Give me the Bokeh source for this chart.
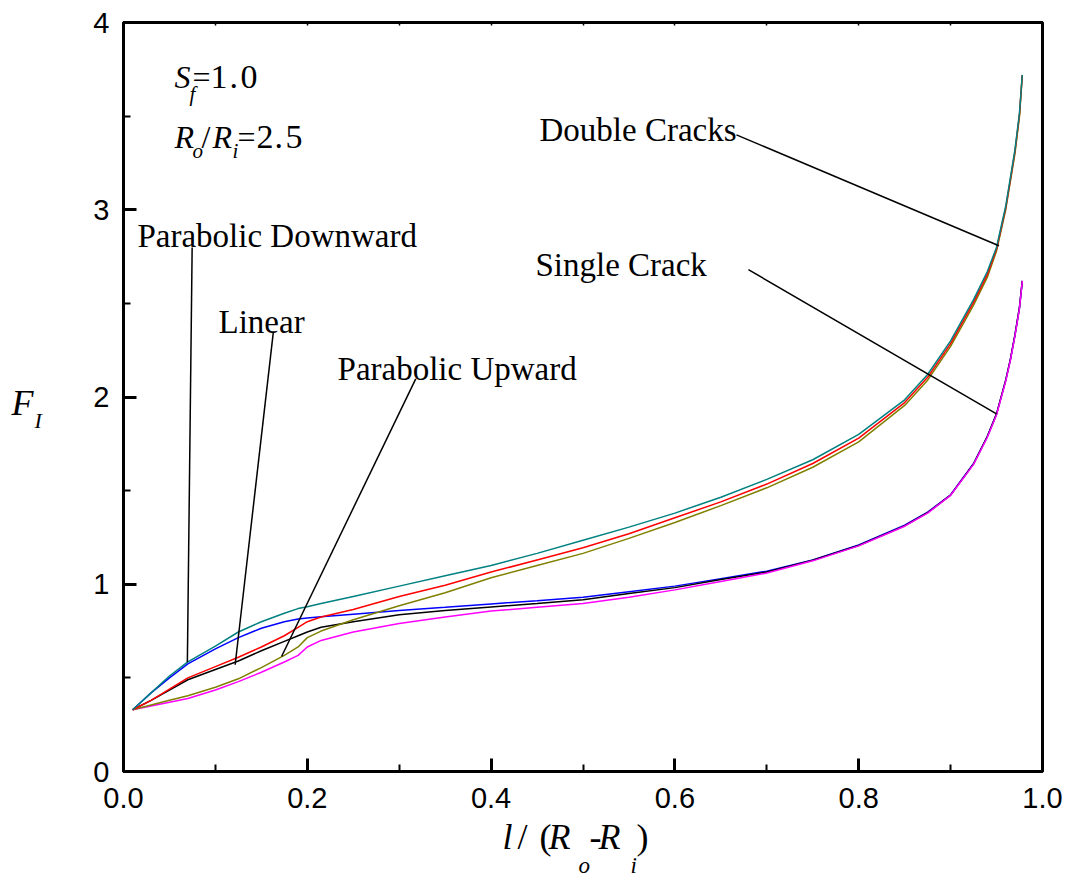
from bokeh.plotting import figure
from bokeh.models import Range1d, FixedTicker, LinearAxis, Label
from bokeh.layouts import column, row
from bokeh.core.properties import value
from bokeh.embed import file_html
from bokeh.resources import INLINE

# Normalised crack length l/(Ro-Ri)
x = [0.01, 0.03, 0.05, 0.07, 0.10, 0.125, 0.15, 0.175, 0.19, 0.20, 0.215, 0.25,
     0.30, 0.35, 0.40, 0.45, 0.50, 0.55, 0.60, 0.65, 0.70, 0.75, 0.80, 0.85,
     0.875, 0.90, 0.925, 0.94, 0.95, 0.96, 0.965, 0.97, 0.975, 0.978]

# Double cracks
double_pd = [0.33, 0.42, 0.51, 0.585, 0.67, 0.745, 0.80, 0.845, 0.87, 0.88, 0.897, 0.935,
             0.99, 1.045, 1.10, 1.165, 1.235, 1.305, 1.38, 1.465, 1.56, 1.665, 1.80, 1.985,
             2.12, 2.30, 2.52, 2.67, 2.80, 3.02, 3.17, 3.32, 3.52, 3.72]
double_lin = [0.33, 0.38, 0.44, 0.50, 0.56, 0.61, 0.665, 0.725, 0.77, 0.80, 0.825, 0.865,
              0.935, 0.995, 1.065, 1.13, 1.195, 1.27, 1.355, 1.44, 1.535, 1.645, 1.78, 1.97,
              2.105, 2.285, 2.505, 2.655, 2.79, 3.01, 3.16, 3.31, 3.51, 3.72]
double_pu = [0.33, 0.355, 0.38, 0.405, 0.45, 0.495, 0.555, 0.62, 0.665, 0.715, 0.75, 0.81,
             0.885, 0.955, 1.035, 1.10, 1.165, 1.245, 1.33, 1.42, 1.515, 1.625, 1.76, 1.955,
             2.09, 2.27, 2.49, 2.64, 2.78, 3.00, 3.15, 3.30, 3.50, 3.72]

# Single crack
single_pd = [0.33, 0.42, 0.50, 0.575, 0.655, 0.715, 0.765, 0.80, 0.815, 0.82, 0.826, 0.84,
             0.86, 0.877, 0.895, 0.912, 0.93, 0.96, 0.99, 1.03, 1.07, 1.13, 1.21, 1.315,
             1.385, 1.478, 1.645, 1.79, 1.91, 2.09, 2.20, 2.33, 2.48, 2.62]
single_lin = [0.33, 0.38, 0.435, 0.49, 0.545, 0.59, 0.645, 0.695, 0.725, 0.745, 0.77, 0.80,
              0.837, 0.86, 0.879, 0.897, 0.917, 0.95, 0.982, 1.025, 1.065, 1.128, 1.207, 1.312,
              1.382, 1.476, 1.643, 1.789, 1.91, 2.09, 2.20, 2.33, 2.48, 2.62]
single_pu = [0.33, 0.35, 0.37, 0.39, 0.435, 0.48, 0.53, 0.585, 0.62, 0.665, 0.70, 0.745,
             0.79, 0.825, 0.857, 0.877, 0.897, 0.93, 0.97, 1.015, 1.06, 1.125, 1.205, 1.31,
             1.38, 1.475, 1.64, 1.785, 1.905, 2.085, 2.195, 2.325, 2.475, 2.62]

x_ticks = [0.0, 0.2, 0.4, 0.6, 0.8, 1.0]
x_tick_labels = ["0.0", "0.2", "0.4", "0.6", "0.8", "1.0"]
x_minor = [0.1, 0.3, 0.5, 0.7, 0.9]
y_ticks = [0, 1, 2, 3, 4]
y_tick_labels = ["0", "1", "2", "3", "4"]
y_minor = [0.5, 1.5, 2.5, 3.5]

# Callout texts and leader lines (text anchor, line start, line end)
callouts = ["Parabolic Downward", "Linear", "Parabolic Upward", "Single Crack", "Double Cracks"]
callout_x = [0.0152, 0.1034, 0.2329, 0.4483, 0.4527]
callout_y = [2.798, 2.339, 2.088, 2.643, 3.364]
leader_x0 = [0.0747, 0.163, 0.318, 0.680, 0.667]
leader_y0 = [2.798, 2.345, 2.097, 2.68, 3.40]
leader_x1 = [0.0695, 0.1215, 0.172, 0.950, 0.9526]
leader_y1 = [0.584, 0.57, 0.614, 1.91, 2.808]

SERIF = "Liberation Serif"
SANS = "Liberation Sans"
LIFT = 0.36        # baseline lift, as a fraction of the font size

LEFT_W = 60        # strip holding the y-axis title
MAIN_W = 1011
MAIN_H = 826
OVERLAP = 16       # x-title strip slides up under the tick-label area
BOTTOM_H = 53 + OVERLAP

p = figure(width=MAIN_W, height=MAIN_H, output_backend="svg", toolbar_location=None,
           title=None, x_range=Range1d(0, 1.0), y_range=Range1d(0, 4),
           min_border_left=63, min_border_right=29, min_border_top=22, min_border_bottom=55)
p.background_fill_color = "white"
p.border_fill_color = "white"
p.grid.visible = False
p.outline_line_color = "black"
p.outline_line_width = 3

for ax in (p.xaxis[0], p.yaxis[0]):
    ax.axis_line_width = 3
    ax.major_tick_in = 13
    ax.major_tick_out = 0
    ax.minor_tick_in = 7
    ax.minor_tick_out = 0
    ax.major_tick_line_width = 3
    ax.minor_tick_line_width = 2
    ax.major_label_text_font = SANS
    ax.major_label_text_font_size = "29px"
    ax.major_label_text_color = "black"

p.xaxis[0].ticker = FixedTicker(ticks=x_ticks, minor_ticks=x_minor)
p.xaxis[0].major_label_overrides = dict(zip(x_ticks, x_tick_labels))
p.xaxis[0].major_label_standoff = 16
p.yaxis[0].ticker = FixedTicker(ticks=y_ticks, minor_ticks=y_minor)
p.yaxis[0].major_label_overrides = dict(zip(y_ticks, y_tick_labels))
p.yaxis[0].major_label_standoff = 14

# Small inward ticks along the top edge, no labels
top_ticks = x_ticks + x_minor
top = LinearAxis(ticker=FixedTicker(ticks=top_ticks, minor_ticks=[]),
                 major_label_overrides={t: "" for t in top_ticks}, axis_line_width=3,
                 major_tick_in=3, major_tick_out=0, major_tick_line_width=1.5)
p.add_layout(top, "above")

# Curves
p.line(x, single_pd, line_color="#0000FF", line_width=1.5)
p.line(x, single_lin, line_color="black", line_width=1.5)
p.line(x, single_pu, line_color="#FF00FF", line_width=1.5)
p.line(x, double_pu, line_color="#808000", line_width=1.5)
p.line(x, double_lin, line_color="#FF0000", line_width=1.5)
p.line(x, double_pd, line_color="#008080", line_width=1.5)

# Leader lines
p.segment(leader_x0, leader_y0, leader_x1, leader_y1, line_color="black", line_width=1.5)


def txt(xv, yv, s, size, style="normal", dx=0, dy=0):
    p.add_layout(Label(x=xv, y=yv, text=s, x_offset=dx, y_offset=dy + round(LIFT * size),
                       text_font=SERIF, text_font_size=f"{size}px", text_font_style=style,
                       text_color="black", text_baseline="alphabetic", text_align="left"))


for s, cx, cy in zip(callouts, callout_x, callout_y):
    txt(cx, cy, s, 33)

# S_f = 1.0
txt(0.0555, 3.6475, "S", 32, "italic")
txt(0.0555, 3.6475, "f", 21, "italic", dx=15, dy=-13)
txt(0.0555, 3.6475, "=", 32, dx=18)
txt(0.0555, 3.6475, "1", 34, dx=36)
txt(0.0555, 3.6475, ".", 34, dx=55)
txt(0.0555, 3.6475, "0", 34, dx=66)

# Ro/Ri = 2.5
txt(0.0555, 3.327, "R", 32, "italic")
txt(0.0555, 3.327, "o", 21, "italic", dx=18, dy=-10)
txt(0.0555, 3.327, "/", 32, dx=27)
txt(0.0555, 3.327, "R", 32, "italic", dx=38)
txt(0.0555, 3.327, "i", 21, "italic", dx=58, dy=-10)
txt(0.0555, 3.327, "=", 32, dx=63)
txt(0.0555, 3.327, "2", 34, dx=82)
txt(0.0555, 3.327, ".", 34, dx=100)
txt(0.0555, 3.327, "5", 34, dx=111)


def strip(w, h, y_range):
    f = figure(width=w, height=h, output_backend="svg", toolbar_location=None, title=None,
               x_range=Range1d(0, w), y_range=y_range,
               x_axis_type=None, y_axis_type=None, min_border=0)
    f.outline_line_color = None
    f.background_fill_alpha = 0
    f.border_fill_alpha = 0
    return f


def piece(f, xs, ys, s, size, style="normal"):
    f.text(x=[xs], y=[ys], text=[s], text_font=value(SERIF), text_font_size=value(f"{size}px"),
           text_font_style=style, text_color="black",
           text_baseline="alphabetic", text_align="left")


# y-axis title: F_I (strip shares the plot's vertical scale)
left = strip(LEFT_W, MAIN_H, p.y_range)
px_per_unit = 749 / 4
piece(left, 11, 1.901 + LIFT * 36 / px_per_unit, "F", 36, "italic")
piece(left, 34, 1.832 + LIFT * 22 / px_per_unit, "I", 22, "italic")

# x-axis title: l / (Ro-Ri)
bottom = strip(LEFT_W + MAIN_W, BOTTOM_H, Range1d(0, BOTTOM_H))
bottom.margin = (-OVERLAP, 0, 0, 0)
base = 30 + LIFT * 36
sub = 6 + LIFT * 23
piece(bottom, 502, base, "l", 36, "italic")
piece(bottom, 517, base, "/", 36)
piece(bottom, 539, base, "(", 36)
piece(bottom, 548, base, "R", 36, "italic")
piece(bottom, 578, sub, "o", 23, "italic")
piece(bottom, 589, base, "-", 36)
piece(bottom, 598, base, "R", 36, "italic")
piece(bottom, 630, sub, "i", 23, "italic")
piece(bottom, 636, base, ")", 36)

layout = column(row(left, p), bottom)
open("out.html", "w").write(file_html(layout, INLINE))
